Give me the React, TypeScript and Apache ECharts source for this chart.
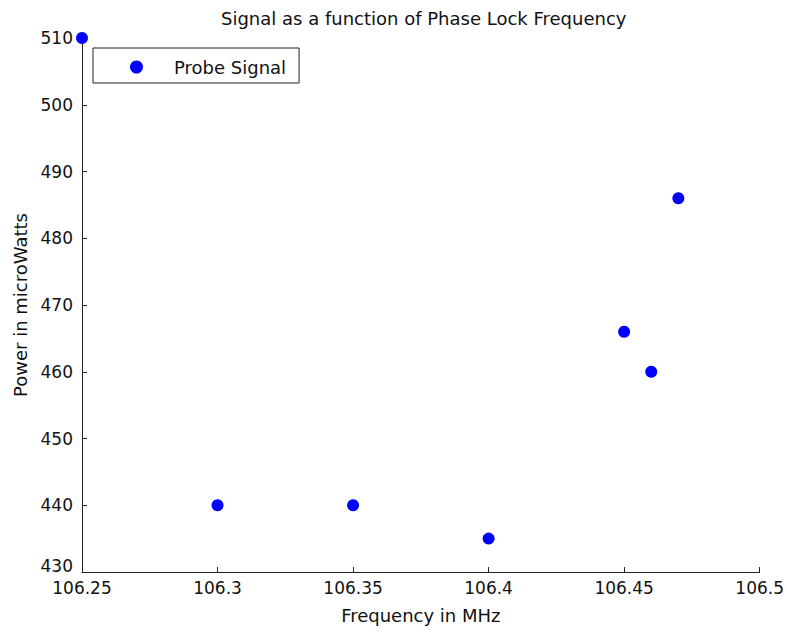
import React, { useEffect, useRef } from "react";
import * as echarts from "echarts";

const frequencies = [106.25, 106.3, 106.35, 106.4, 106.45, 106.46, 106.47];
const powers = [510, 440, 440, 435, 466, 460, 486];
const xTicks = [106.25, 106.3, 106.35, 106.4, 106.45, 106.5];
const yTicks = [430, 440, 450, 460, 470, 480, 490, 500, 510];

const FONT = "DejaVu Sans";
const INK = "#111";

export default function App() {
  const ref = useRef<HTMLDivElement>(null);
  useEffect(() => {
    if (!ref.current) return;
    const chart = echarts.init(ref.current, undefined, { renderer: "svg" });
    const axisLine = { show: true, lineStyle: { color: "#222", width: 1 } };
    chart.setOption({
      animation: false,
      backgroundColor: "#fff",
      title: {
        text: "Signal as a function of Phase Lock Frequency",
        left: 216,
        top: 4,
        textStyle: { fontFamily: FONT, fontSize: 18, fontWeight: "normal", color: INK },
      },
      legend: {
        left: 93,
        top: 48,
        orient: "vertical",
        icon: "circle",
        itemWidth: 13,
        itemHeight: 13,
        padding: [10, 13, 7, 37],
        borderColor: "#222",
        borderWidth: 1,
        borderRadius: 0,
        textStyle: {
          fontFamily: FONT,
          fontSize: 18,
          color: INK,
          lineHeight: 18,
          padding: [0, 0, 0, 26],
        },
        data: ["Probe Signal"],
      },
      grid: { left: 82, right: 27, top: 38, bottom: 60, containLabel: false },
      xAxis: {
        type: "value",
        min: xTicks[0],
        max: xTicks[xTicks.length - 1],
        interval: 0.05,
        name: "Frequency in MHz",
        nameLocation: "middle",
        nameGap: 34,
        nameTextStyle: { fontFamily: FONT, fontSize: 18, color: INK },
        axisLine,
        axisTick: { show: true, inside: true, length: 5, lineStyle: { color: "#222" } },
        splitLine: { show: false },
        axisLabel: {
          fontFamily: FONT,
          fontSize: 17,
          color: INK,
          margin: 7,
          formatter: (v: number) => String(parseFloat(v.toFixed(2))),
          showMinLabel: true,
          showMaxLabel: true,
        },
      },
      yAxis: {
        type: "value",
        min: yTicks[0],
        max: yTicks[yTicks.length - 1],
        interval: 10,
        name: "Power in microWatts",
        nameLocation: "middle",
        nameGap: 53,
        nameTextStyle: { fontFamily: FONT, fontSize: 18, color: INK },
        axisLine,
        axisTick: { show: true, inside: true, length: 5, lineStyle: { color: "#222" } },
        splitLine: { show: false },
        axisLabel: {
          fontFamily: FONT,
          fontSize: 17,
          color: INK,
          margin: 9,
          formatter: (v: number) => (v === yTicks[0] ? "{lo|" + v + "}" : String(v)),
          rich: { lo: { fontFamily: FONT, fontSize: 17, color: INK, padding: [0, 0, 12, 0] } },
        },
      },
      series: [
        {
          name: "Probe Signal",
          type: "scatter",
          symbol: "circle",
          symbolSize: 12,
          clip: false,
          itemStyle: { color: "#0000ff", opacity: 1 },
          emphasis: { disabled: true },
          data: frequencies.map((f, i) => [f, powers[i]]),
        },
      ],
    });
    return () => chart.dispose();
  }, []);
  return (
    <div
      ref={ref}
      style={{ position: "absolute", left: 0, top: 0, width: 787, height: 632 }}
    />
  );
}
